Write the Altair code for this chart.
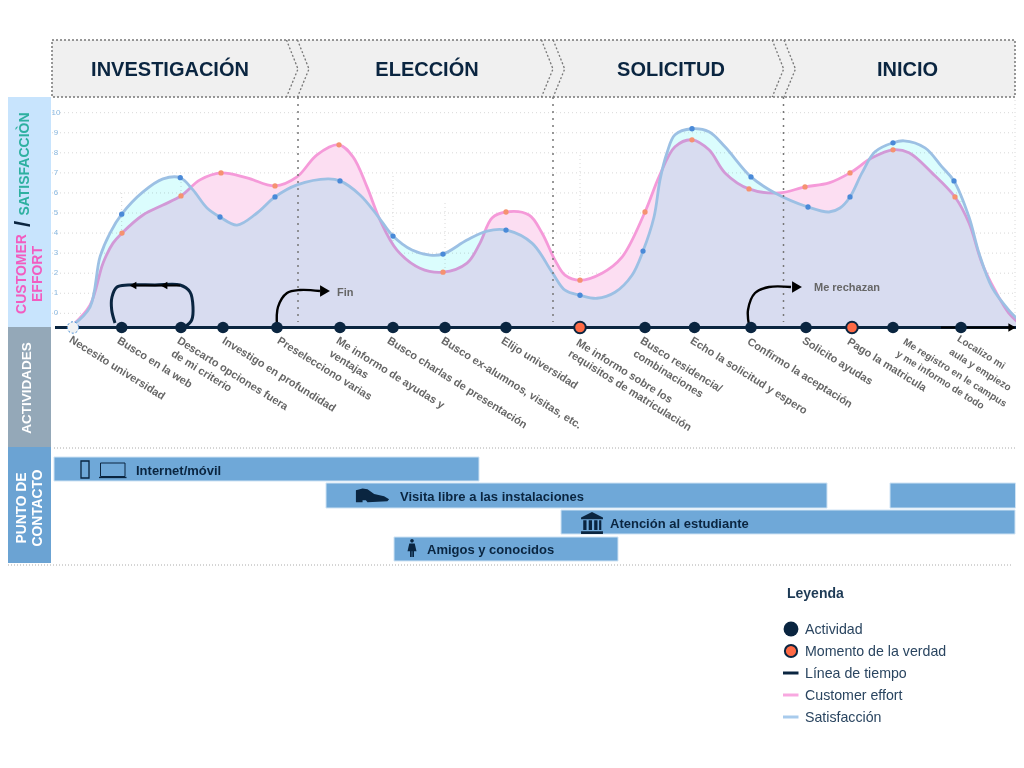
import altair as alt
import pandas as pd

NAVY = "#0a2540"
FONT = "Liberation Sans"

# --- chart values -----------------------------------------------------------
sat_x = [73, 90, 100, 110, 121.7, 143, 163, 180.3, 193, 207, 220, 237, 257, 275, 297, 328, 340, 360, 377, 393,
         412, 430, 443, 467, 487, 506, 532, 552, 565, 580, 597, 615, 632, 643, 654, 660, 667, 675, 692, 709,
         725, 751, 775, 808, 829, 840, 850, 862, 875, 893, 904, 925, 942, 954, 969, 979, 992, 1009, 1024]
sat_y = [-0.58, 0.31, 2.81, 4.0, 4.94, 6.05, 6.7, 6.76, 6.15, 5.25, 4.8, 4.4, 5.0, 5.8, 6.4, 6.7, 6.6, 5.9, 4.9, 3.85,
         3.15, 2.9, 2.95, 3.65, 4.1, 4.15, 3.5, 2.05, 1.15, 0.9, 0.75, 1.05, 1.9, 3.1, 4.8, 6.65, 8.0, 8.9, 9.2, 9.05,
         8.3, 6.8, 6.0, 5.3, 5.05, 5.25, 5.8, 7.0, 8.05, 8.5, 8.6, 8.25, 7.3, 6.6, 4.8, 3.0, 1.3, 0.15, -0.6]
eff_x = [73, 90, 103, 113, 122, 143, 163, 181, 200, 221, 247, 275, 297, 317, 339, 353, 367, 380, 397, 420, 443,
         467, 480, 492, 506, 529, 542, 555, 565, 580, 602, 622, 645, 659, 675, 692, 709, 725, 749, 779, 805, 829,
         850, 872, 893, 909, 932, 955, 969, 982, 995, 1009, 1024]
eff_y = [-0.58, 0.4, 2.5, 3.5, 4.0, 4.9, 5.4, 5.85, 6.65, 7.0, 6.75, 6.35, 6.8, 7.9, 8.4, 7.8, 6.3, 4.65, 3.15, 2.25, 2.05,
         2.5, 3.5, 4.75, 5.05, 4.9, 4.0, 2.65, 1.9, 1.65, 2.0, 2.8, 5.05, 6.8, 8.3, 8.65, 8.15, 7.0, 6.2, 6.0, 6.3, 6.5,
         7.0, 7.75, 8.15, 8.0, 7.0, 5.8, 4.5, 2.5, 1.15, 0.0, -0.7]
sat_mark_x = [121.7, 180.3, 220, 275, 340, 393, 443, 506, 580, 643, 692, 751, 808, 850, 893, 954]
sat_mark_y = [4.94, 6.76, 4.8, 5.8, 6.6, 3.85, 2.95, 4.15, 0.9, 3.1, 9.2, 6.8, 5.3, 5.8, 8.5, 6.6]
eff_mark_x = [122, 181, 221, 275, 339, 443, 506, 580, 645, 692, 749, 805, 850, 893, 955]
eff_mark_y = [4.0, 5.85, 7.0, 6.35, 8.4, 2.05, 5.05, 1.65, 5.05, 8.65, 6.2, 6.3, 7.0, 8.15, 5.8]
score_ticks = list(range(0, 11))

activity_x = [121.7, 181, 223, 277, 340, 393, 445, 506, 645, 694.5, 751, 806, 893, 961]
truth_x = [580, 852]
start_x = [73]
guide_x = [121.7, 181, 223, 277, 340, 393, 445, 506, 580, 645, 694.5, 751, 806, 852, 893, 961, 1015]
guide_top = [193, 178, 173, 186, 145, 176, 203, 212, 155, 212, 140, 189, 187, 173, 150, 197, 100]

labels = ["Necesito universidad", "Busco en la web", "Descarto opciones fuera", "de mi criterio",
          "Investigo en profundidad", "Preselecciono varias", "Me informo de ayudas y", "ventajas",
          "Busco charlas de presentación", "Busco ex-alumnos, visitas, etc.", "Elijo universidad",
          "Me informo sobre los", "requisitos de matriculación", "Busco residencia/", "combinaciones",
          "Echo la solicitud y espero", "Confirmo la aceptación", "Solicito ayudas", "Pago la matricula"]
labels_x = [70, 118, 178, 172, 223, 278, 337, 330, 388, 442, 502, 577, 569, 641, 634, 691, 748, 803, 848]
labels_y = [339, 340, 340, 353, 340, 340, 340, 353, 340, 340, 340, 342, 353, 340, 353, 340, 341, 340, 341]
end_labels = ["Me registro en le campus", "y me informo de todo", "Localizo mi", "aula y empiezo"]
end_labels_x = [904, 897, 958, 950]
end_labels_y = [341, 353, 338, 351]

phases = ["INVESTIGACIÓN", "ELECCIÓN", "SOLICITUD", "INICIO"]
phases_x = [170, 427, 671, 907.5]

touch_names = ["Internet/móvil", "Visita libre a las instalaciones", "Atención al estudiante", "Amigos y conocidos"]
touch_text_x = [136, 400, 610, 427]
touch_text_y = [471, 497, 524, 550]
bar_x = [54, 326, 890, 561, 394]
bar_x2 = [479, 827, 1015.5, 1015, 618]
bar_y = [457, 483, 483, 510, 537]
bar_y2 = [481, 508, 508, 534, 561]

legend_names = ["Actividad", "Momento de la verdad", "Línea de tiempo", "Customer effort", "Satisfacción"]
legend_y = [629, 651, 673, 695, 717]

# --- shared scales: x is the timeline position, y is the 0-10 score ----------
XS = alt.Scale(domain=[8, 1016], nice=False, zero=False)
YS = alt.Scale(domain=[(313.3 - 738) / 20.06, (313.3 - 8) / 20.06], nice=False, zero=False)


def sc(v):
    return (313.3 - v) / 20.06


X = alt.X("x:Q", scale=XS, axis=None)
Y = alt.Y("y:Q", scale=YS, axis=None)


def rects(xs, x2s, ys, y2s, **mark):
    df = pd.DataFrame({"x": xs, "x2": x2s, "y": [sc(v) for v in ys], "y2": [sc(v) for v in y2s]})
    return alt.Chart(df).mark_rect(**mark).encode(X, Y, x2="x2:Q", y2="y2:Q")


def texts(items, xs, ys, **mark):
    df = pd.DataFrame({"t": items, "x": xs, "y": [sc(v) for v in ys]})
    mark.setdefault("font", FONT)
    mark.setdefault("baseline", "middle")
    return alt.Chart(df).mark_text(**mark).encode(X, Y, text="t:N")


def path(groups, **mark):
    rows = []
    for g, pts in enumerate(groups):
        for o, (a, b) in enumerate(pts):
            rows.append({"x": a, "y": sc(b), "g": g, "o": o})
    return alt.Chart(pd.DataFrame(rows)).mark_line(**mark).encode(X, Y, detail="g:N", order="o:Q")


def dots(xs, ys, **mark):
    df = pd.DataFrame({"x": xs, "y": [sc(v) for v in ys]})
    return alt.Chart(df).mark_point(**mark).encode(X, Y)


# --- panels ------------------------------------------------------------------
side = rects([4], [51], [97], [327], fill="#c8e4fd") + rects([4], [51], [327], [447], fill="#94a8b8") + \
    rects([4], [51], [447], [563], fill="#6ba3d3")
header = rects([52], [1015], [40], [97], fill="#f0f0f0", stroke="#777777", strokeDash=[2, 2], strokeWidth=1.5)
chev_tips = [298, 309, 553, 564.7, 783.7, 795.5]
chevrons = path([[(t - 11.5, 40), (t, 69), (t - 11.5, 97)] for t in chev_tips],
                color="#777777", strokeDash=[2, 2], strokeWidth=1.3)
phase_text = texts(phases, phases_x, [70] * 4, align="center", fontSize=20, fontWeight="bold", color=NAVY)

side_text = (
    texts(["CUSTOMER"], [21.5], [274], angle=270, align="center", fontSize=14, fontWeight="bold", color="#f25cc0")
    + texts(["EFFORT"], [37.5], [274], angle=270, align="center", fontSize=14, fontWeight="bold", color="#f25cc0")
    + texts(["SATISFACCIÒN"], [24.5], [164], angle=270, align="center", fontSize=14, fontWeight="bold", color="#2eb0a0")
    + texts(["/"], [23], [224], angle=270, align="center", fontSize=22, fontWeight="bold", color=NAVY)
    + texts(["ACTIVIDADES"], [26.5], [388], angle=270, align="center", fontSize=13.5, fontWeight="bold", color="white")
    + texts(["PUNTO DE"], [21.5], [508], angle=270, align="center", fontSize=13.8, fontWeight="bold", color="white")
    + texts(["CONTACTO"], [37.5], [508], angle=270, align="center", fontSize=13.8, fontWeight="bold", color="white")
)

# --- score grid --------------------------------------------------------------
grid_df = pd.DataFrame({"y": score_ticks, "x": [52] * 11, "x2": [1024] * 11, "t": [str(v) for v in score_ticks], "lx": [56] * 11})
grid = alt.Chart(grid_df).mark_rule(color="#d8d8d8", strokeDash=[1, 3], strokeWidth=1).encode(X, Y, x2="x2:Q")
grid_labels = alt.Chart(grid_df).mark_text(font=FONT, fontSize=8, color="#8ab8e0", align="center", baseline="middle").encode(
    alt.X("lx:Q", scale=XS, axis=None), Y, text="t:N")
guide_df = pd.DataFrame({"x": guide_x, "y": [sc(v) for v in guide_top], "y2": [sc(327)] * len(guide_x)})
guides = alt.Chart(guide_df).mark_rule(color="#d8d8d8", strokeDash=[1, 3], strokeWidth=1).encode(X, Y, y2="y2:Q")

# --- curves ------------------------------------------------------------------
base = sc(327)
eff = pd.DataFrame({"x": eff_x, "y": eff_y, "b": [base] * len(eff_x)})
sat = pd.DataFrame({"x": sat_x, "y": sat_y, "b": [base] * len(sat_x)})
curve = "catmull-rom"
eff_area = alt.Chart(eff).mark_area(interpolate=curve, color="#fcdef2").encode(X, Y, y2="b:Q")
eff_line = alt.Chart(eff).mark_line(interpolate=curve, color="#f59ad9", strokeWidth=2.8).encode(X, Y)
sat_area = alt.Chart(sat).mark_area(interpolate=curve, color="#dbfdfd", blend="multiply").encode(X, Y, y2="b:Q")
sat_line = alt.Chart(sat).mark_line(interpolate=curve, color="#9cc0e4", strokeWidth=2.8).encode(X, Y)
sat_pts = alt.Chart(pd.DataFrame({"x": sat_mark_x, "y": sat_mark_y})).mark_point(
    filled=True, size=28, opacity=1, color="#4a8ad8").encode(X, Y)
eff_pts = alt.Chart(pd.DataFrame({"x": eff_mark_x, "y": eff_mark_y})).mark_point(
    filled=True, size=28, opacity=1, color="#f59270").encode(X, Y)

# --- separators --------------------------------------------------------------
sep_df = pd.DataFrame({"x": [298, 553, 783.5], "y": [sc(97)] * 3, "y2": [sc(322)] * 3})
seps = alt.Chart(sep_df).mark_rule(color="#777777", strokeDash=[2, 5], strokeWidth=1.5).encode(X, Y, y2="y2:Q")
hl_df = pd.DataFrame({"x": [54, 8], "x2": [1018, 1012], "y": [sc(448), sc(565)]})
hlines = alt.Chart(hl_df).mark_rule(color="#aaaaaa", strokeDash=[1, 2], strokeWidth=1).encode(X, Y, x2="x2:Q")

# --- timeline ----------------------------------------------------------------
timeline = path([[(55, 327.5), (1024, 327.5)]], color=NAVY, strokeWidth=3)
tl_end = path([[(941, 327.5), (1012, 327.5)]], color="black", strokeWidth=2)
tl_head = dots([1012], [327.5], shape="triangle-right", filled=True, size=70, color="black", opacity=1)
tl_act = dots(activity_x, [327.5] * len(activity_x), filled=True, size=133, color=NAVY, opacity=1)
tl_truth = dots(truth_x, [327.5] * 2, filled=True, size=135, fill="#ff6a45", stroke=NAVY, strokeWidth=2, opacity=1)
tl_start = dots(start_x, [327.5], filled=True, size=130, fill="#f0f2f4", stroke="#3a85d0", strokeWidth=1, strokeDash=[2, 2], opacity=1)

# --- arrows ------------------------------------------------------------------
loop = path([[(115, 323), (111.7, 310), (112, 297), (117, 287), (128, 285), (155, 285), (180, 285), (190, 292),
              (193, 307), (191.7, 320), (185, 327)]], color=NAVY, strokeWidth=3, interpolate="catmull-rom")
loop_top = path([[(135, 285.5), (180, 285.5)]], color="black", strokeWidth=2)
loop_heads = dots([133, 164], [285.5, 285.5], shape="triangle-left", filled=True, size=60, color="black", opacity=1)
arrows = path([[(277, 326), (278, 307), (287, 293), (300, 290), (320, 291)],
               [(749, 325), (748, 310), (755, 293), (769, 287), (791, 287)]],
              color="black", strokeWidth=2.4, interpolate="catmull-rom")
arrow_heads = dots([325, 797], [291, 287], shape="triangle-right", filled=True, size=130, color="black", opacity=1)
arrow_text = texts(["Fin", "Me rechazan"], [337, 814], [293, 288], align="left", fontSize=11, fontWeight="bold", color="#666666")

act_labels = texts(labels, labels_x, labels_y, angle=32, align="left", fontSize=11, fontWeight="bold", color="#666666")
end_act_labels = texts(end_labels, end_labels_x, end_labels_y, angle=32, align="left", fontSize=10, fontWeight="bold", color="#666666")

# --- touch points ------------------------------------------------------------
bars = rects(bar_x, bar_x2, bar_y, bar_y2, fill="#6fa8d8", stroke="#cfe3f4", strokeWidth=1)
bar_text = texts(touch_names, touch_text_x, touch_text_y, align="left", fontSize=13, fontWeight="bold", color=NAVY)
phone = rects([81], [89], [461], [478], fill="transparent", stroke=NAVY, strokeWidth=1.3)
laptop = rects([100.5], [125], [463], [476.5], fill="transparent", stroke=NAVY, strokeWidth=1) + \
    path([[(99, 477.5), (126.5, 477.5)]], color=NAVY, strokeWidth=1.3)
SHOE = "M-1,0.1 L-1,-0.35 L-0.6,-0.45 L-0.3,-0.4 L0.1,-0.12 L0.7,0.02 L1,0.2 L0.9,0.32 L-0.3,0.38 L-0.4,0.25 L-0.6,0.25 L-0.6,0.38 L-1,0.38Z"
BANK = ("M-1,-0.5 L0,-1 L1,-0.5 L1,-0.35 L-1,-0.35Z M-0.8,-0.25 H-0.5 V0.65 H-0.8Z M-0.3,-0.25 H0 V0.65 H-0.3Z "
        "M0.2,-0.25 H0.5 V0.65 H0.2Z M0.65,-0.25 H0.85 V0.65 H0.65Z M-1,0.75 H1 V1 H-1Z")
PERSON = ("M-0.2,-0.8 A0.2,0.2 0 1 1 0.2,-0.8 A0.2,0.2 0 1 1 -0.2,-0.8Z M-0.3,-0.5 H0.3 L0.5,0.35 H0.22 V1 H0.03 V0.35 "
          "H-0.03 V1 H-0.22 V0.35 H-0.5Z")
shoe = dots([372.5], [496], shape=SHOE, filled=True, size=1100, color=NAVY, opacity=1)
bank = dots([592], [523], shape=BANK, filled=True, size=480, color=NAVY, opacity=1)
person = dots([412], [548], shape=PERSON, filled=True, size=324, color=NAVY, opacity=1)

# --- legend ------------------------------------------------------------------
leg_title = texts(["Leyenda"], [787], [594], align="left", fontSize=14, fontWeight="bold", color="#1d3a55")
leg_text = texts(legend_names, [805] * 5, [v + 1 for v in legend_y], align="left", fontSize=14.2, color="#2a4560")
leg_a = dots([791], [legend_y[0]], filled=True, size=220, color=NAVY, opacity=1)
leg_b = dots([791], [legend_y[1]], filled=True, size=150, fill="#ff6a45", stroke=NAVY, strokeWidth=2, opacity=1)
leg_c = path([[(783, legend_y[2]), (798.5, legend_y[2])]], color=NAVY, strokeWidth=3)
leg_d = path([[(783, legend_y[3]), (798.5, legend_y[3])]], color="#f8a8e0", strokeWidth=3)
leg_e = path([[(783, legend_y[4]), (798.5, legend_y[4])]], color="#a8cbec", strokeWidth=3)

chart = alt.layer(
    side, header, chevrons, phase_text, side_text,
    grid, guides, grid_labels,
    eff_area, eff_line, sat_area, sat_line, eff_pts, sat_pts,
    seps, hlines,
    timeline, tl_end, tl_head, loop, loop_top, loop_heads, arrows, arrow_heads, arrow_text,
    tl_act, tl_truth, tl_start, act_labels, end_act_labels,
    bars, bar_text, phone, laptop, shoe, bank, person,
    leg_title, leg_text, leg_a, leg_b, leg_c, leg_d, leg_e,
).properties(
    width=1008, height=730, padding=0, autosize=alt.AutoSizeParams(type="none")
).configure_view(stroke=None)

chart.save("out.html", embed_options={"renderer": "svg", "actions": False})
